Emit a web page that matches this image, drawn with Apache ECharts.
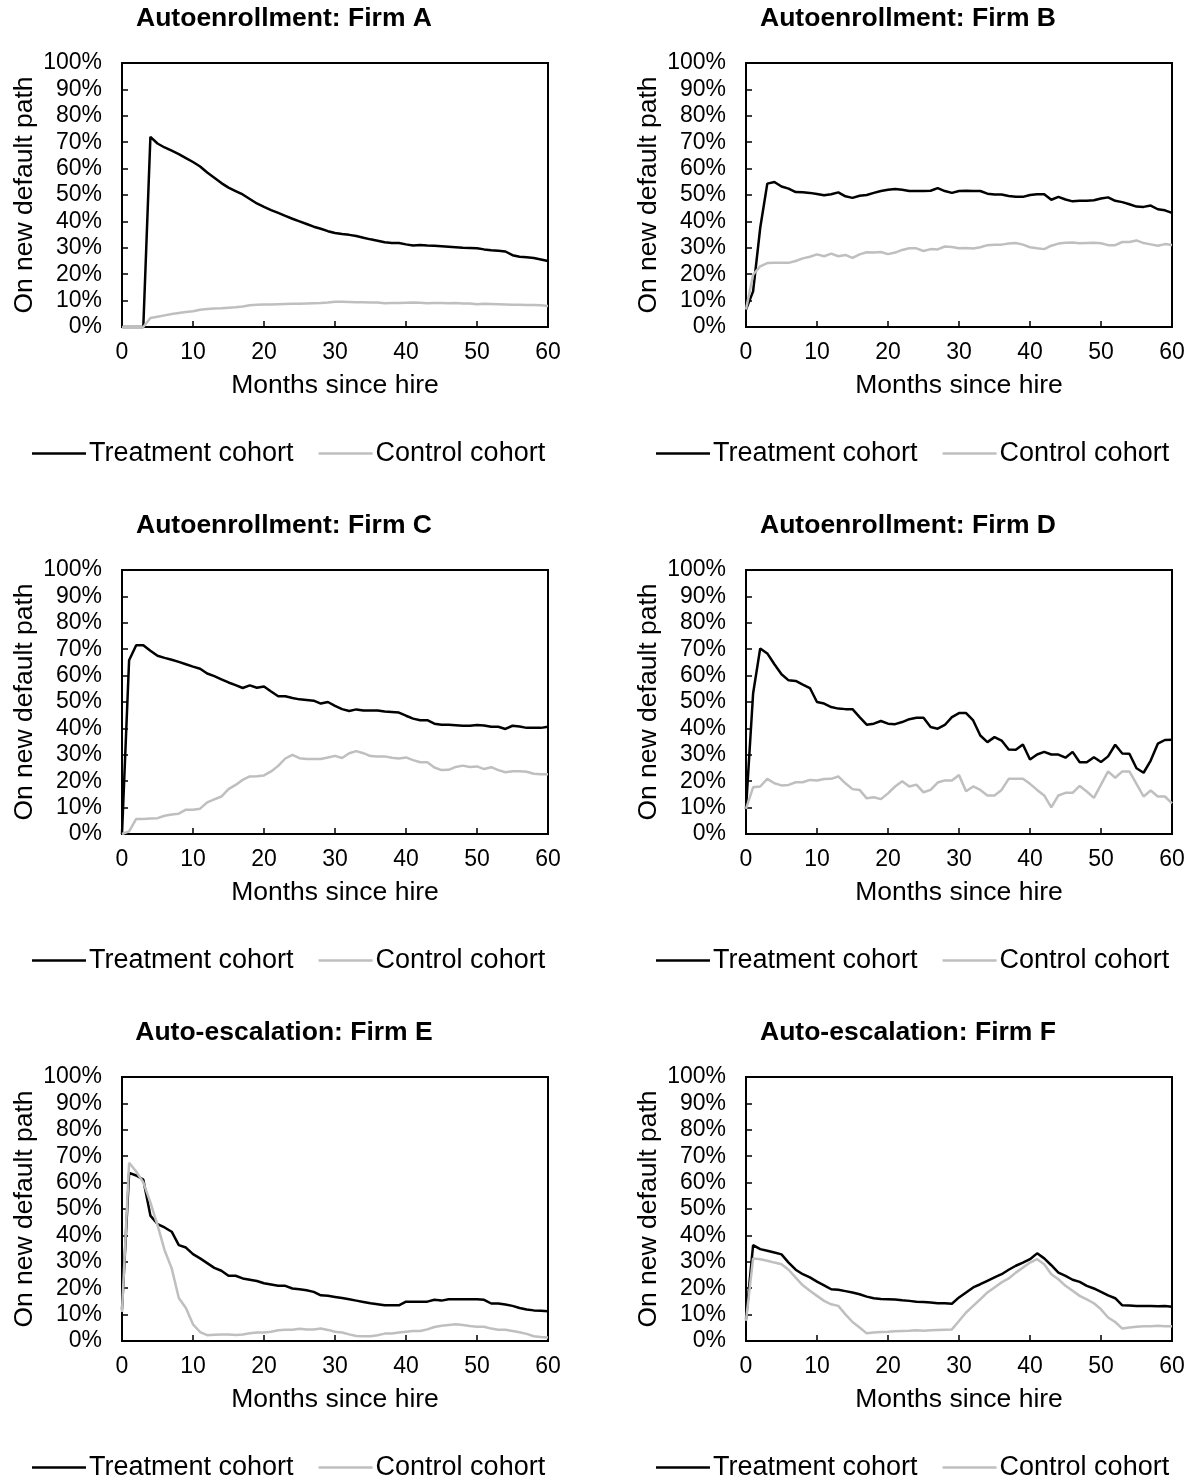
<!DOCTYPE html>
<html>
<head>
<meta charset="utf-8">
<script src="https://cdn.jsdelivr.net/npm/echarts@6/dist/echarts.min.js"></script>
<style>
html,body{margin:0;padding:0;background:#fff;}
#chart{width:1196px;height:1479px;}
</style>
</head>
<body>
<div id="chart"></div>
<script>
const MONTHS = [0,1,2,3,4,5,6,7,8,9,10,11,12,13,14,15,16,17,18,19,20,21,22,23,24,25,26,27,28,29,30,31,32,33,34,35,36,37,38,39,40,41,42,43,44,45,46,47,48,49,50,51,52,53,54,55,56,57,58,59,60];
const X_TICKS = [0,10,20,30,40,50,60];
const Y_TICKS = [0,10,20,30,40,50,60,70,80,90,100];
const TITLES = ['Autoenrollment: Firm A','Autoenrollment: Firm B','Autoenrollment: Firm C','Autoenrollment: Firm D','Auto-escalation: Firm E','Auto-escalation: Firm F'];
const SERIES_NAMES = ['Treatment cohort','Control cohort'];
const X_NAME = 'Months since hire';
const Y_NAME = 'On new default path';

const A_TREAT = [0,0,0,0,72.0,69.5,68.0,66.8,65.5,64.0,
  62.5,60.8,58.5,56.5,54.5,52.8,51.5,50.2,48.5,46.8,
  45.5,44.3,43.2,42.1,41.0,40.0,39.0,38.0,37.2,36.3,
  35.6,35.2,34.9,34.5,33.8,33.2,32.7,32.1,31.8,31.8,
  31.3,30.9,31.1,30.9,30.8,30.6,30.4,30.2,30.0,29.9,
  29.8,29.4,29.1,28.9,28.6,27.2,26.6,26.4,26.1,25.6,25.0];
const A_CTRL = [0,0,0,0,3.4,3.9,4.4,4.9,5.3,5.7,
  6.0,6.5,6.8,7.0,7.1,7.3,7.5,7.8,8.2,8.4,
  8.5,8.5,8.6,8.7,8.8,8.8,8.9,9.0,9.1,9.3,
  9.6,9.6,9.5,9.4,9.4,9.3,9.3,9.0,9.1,9.1,
  9.2,9.3,9.2,9.0,9.1,9.1,9.0,9.1,8.9,8.9,
  8.6,8.8,8.7,8.6,8.5,8.4,8.4,8.3,8.3,8.2,8.0];
const B_TREAT = [6.6,13.5,37.5,54.3,54.9,53.2,52.4,51.1,51.0,50.8,
  50.4,49.9,50.3,51.0,49.5,48.9,49.7,50.0,50.8,51.5,
  52.0,52.3,52.0,51.5,51.5,51.5,51.6,52.6,51.5,50.8,
  51.5,51.6,51.5,51.5,50.5,50.2,50.2,49.6,49.3,49.3,
  50.0,50.3,50.3,48.2,49.3,48.3,47.6,47.8,47.8,48.0,
  48.7,49.1,47.8,47.3,46.5,45.6,45.5,46.0,44.6,44.2,43.2];
const B_CTRL = [6.6,19.8,23.0,24.2,24.3,24.3,24.3,25.0,26.0,26.6,
  27.5,26.8,27.8,26.8,27.3,26.2,27.5,28.3,28.2,28.4,
  27.6,28.2,29.2,29.8,29.8,28.8,29.5,29.4,30.5,30.3,
  29.8,29.9,29.7,30.2,31.0,31.2,31.2,31.6,31.8,31.2,
  30.2,29.8,29.5,30.8,31.6,31.9,32.0,31.7,31.8,31.9,
  31.7,31.0,31.0,32.2,32.2,32.8,31.8,31.3,30.8,31.4,31.1];
const C_TREAT = [0,65.8,71.5,71.5,69.4,67.5,66.7,66.0,65.2,64.3,
  63.4,62.6,60.8,59.8,58.6,57.4,56.4,55.3,56.3,55.4,
  55.9,54.0,52.2,52.2,51.5,51.0,50.8,50.5,49.4,50.0,
  48.5,47.3,46.6,47.2,46.8,46.8,46.8,46.4,46.2,46.0,
  44.8,43.7,43.1,43.1,41.8,41.4,41.4,41.2,41.0,41.0,
  41.3,41.1,40.6,40.6,39.8,41.0,40.7,40.2,40.2,40.2,40.6];
const C_CTRL = [0,1.0,5.7,5.7,5.9,6.0,6.9,7.4,7.7,9.2,
  9.2,9.6,12.0,13.1,14.2,17.0,18.6,20.5,21.8,21.9,
  22.2,23.7,25.8,28.6,30.0,28.7,28.4,28.4,28.4,29.0,
  29.6,28.8,30.6,31.4,30.6,29.5,29.4,29.4,28.9,28.6,
  29.0,28.0,27.2,27.2,25.2,24.2,24.3,25.4,25.9,25.4,
  25.6,24.6,25.3,24.2,23.4,23.8,23.8,23.6,22.8,22.6,22.6];
const D_TREAT = [9.5,53.2,70.3,68.4,64.3,60.5,58.2,58.0,56.6,55.3,
  50.0,49.4,48.1,47.5,47.3,47.3,44.3,41.4,41.8,42.8,
  41.8,41.6,42.4,43.5,44.0,44.0,40.5,39.9,41.3,44.3,
  45.8,45.8,43.0,37.3,34.8,36.7,35.4,32.0,31.9,33.9,
  28.2,30.1,31.1,30.1,30.1,28.9,31.1,27.2,27.2,29.1,
  27.3,29.4,33.8,30.5,30.4,24.9,23.2,27.8,34.2,35.6,35.7];
const D_CTRL = [9.5,17.7,18.0,20.9,19.2,18.4,18.6,19.6,19.6,20.5,
  20.3,20.8,20.9,21.8,19.2,17.0,16.7,13.5,13.9,13.2,
  15.4,18.0,20.0,18.0,18.7,15.8,16.7,19.5,20.3,20.3,
  22.3,16.2,18.0,16.7,14.6,14.6,16.7,20.9,20.9,20.9,
  19.0,16.7,14.6,10.1,14.6,15.6,15.6,18.2,16.1,13.7,
  18.7,23.7,21.3,23.7,23.7,19.0,14.2,16.5,14.2,14.2,11.6];
const E_TREAT = [12.0,63.7,62.7,61.1,47.5,44.3,43.0,41.4,36.3,35.4,
  32.9,31.3,29.5,27.7,26.6,24.7,24.7,23.7,23.2,22.7,
  21.9,21.4,20.9,20.9,19.9,19.6,19.2,18.6,17.3,17.1,
  16.7,16.3,15.8,15.3,14.8,14.3,13.9,13.5,13.5,13.5,
  14.9,14.9,14.9,14.9,15.6,15.3,15.8,15.8,15.8,15.8,
  15.8,15.6,14.2,14.2,13.8,13.3,12.5,11.9,11.6,11.5,11.3];
const E_CTRL = [11.0,67.5,64.2,60.1,52.5,43.9,34.4,27.5,16.3,12.5,
  6.3,3.4,2.2,2.4,2.5,2.5,2.3,2.5,2.9,3.2,
  3.2,3.5,4.1,4.3,4.3,4.6,4.4,4.4,4.7,4.2,
  3.5,3.2,2.5,1.9,1.8,1.8,2.2,2.8,2.8,3.2,
  3.5,3.8,3.8,4.4,5.3,5.8,6.1,6.3,6.1,5.7,
  5.4,5.4,4.7,4.3,4.3,3.8,3.3,2.7,1.8,1.5,1.3];
const F_TREAT = [8.2,36.3,34.8,34.2,33.5,32.8,29.7,27.0,25.3,24.1,
  22.5,21.1,19.6,19.4,18.9,18.4,17.7,16.8,16.2,15.9,
  15.8,15.7,15.4,15.2,14.9,14.8,14.6,14.3,14.3,14.1,
  16.5,18.4,20.3,21.5,22.8,24.1,25.3,27.0,28.5,29.7,
  31.0,33.2,31.3,28.7,25.9,24.7,23.2,22.4,20.9,19.9,
  18.6,17.3,16.2,13.5,13.4,13.3,13.3,13.3,13.2,13.3,13.0];
const F_CTRL = [7.6,31.3,31.0,30.4,29.7,29.1,27.0,24.0,21.1,19.0,
  17.1,15.2,13.9,13.3,10.1,7.2,5.1,2.9,3.2,3.4,
  3.5,3.7,3.8,3.9,4.1,3.9,4.1,4.2,4.3,4.4,
  7.6,10.8,13.3,15.8,18.4,20.3,22.2,23.7,25.9,27.8,
  29.7,31.0,29.1,25.3,23.4,20.9,19.0,17.1,15.8,14.3,
  12.0,8.9,7.2,4.7,5.1,5.4,5.6,5.6,5.8,5.6,5.6];

const TREATS = [A_TREAT,B_TREAT,C_TREAT,D_TREAT,E_TREAT,F_TREAT];
const CTRLS = [A_CTRL,B_CTRL,C_CTRL,D_CTRL,E_CTRL,F_CTRL];
const COLORS = ['#000000','#BFBFBF'];

const FONT = "'Liberation Sans', Arial, sans-serif";
const COL_OFF = [0, 624];
const ROW_TOP = [63, 570, 1077];
const PLOT_L = 122, PLOT_W = 426, PLOT_H = 264;

const chart = echarts.init(document.getElementById('chart'), null, {renderer:'canvas'});
const option = {
  animation:false,
  backgroundColor:'#fff',
  textStyle:{fontFamily:FONT,color:'#000'},
  title:[], legend:[], grid:[], xAxis:[], yAxis:[], series:[]
};
for (let i=0;i<6;i++){
  const c = i%2, r = Math.floor(i/2);
  const left = PLOT_L + COL_OFF[c];
  const top = ROW_TOP[r];
  option.title.push({
    text:TITLES[i], left:279+COL_OFF[c], top:top-63, textAlign:'center',
    textStyle:{fontFamily:FONT,fontSize:26.5,fontWeight:'bold',color:'#000'}
  });
  option.grid.push({left:left, top:top, width:PLOT_W, height:PLOT_H, show:true, borderColor:'#000', borderWidth:2, backgroundColor:'transparent'});
  option.xAxis.push({
    type:'value', gridIndex:i, min:X_TICKS[0], max:X_TICKS[X_TICKS.length-1], interval:10,
    name:X_NAME, nameLocation:'middle', nameGap:45,
    nameTextStyle:{fontFamily:FONT,fontSize:26.5,color:'#000'},
    axisLine:{show:true,lineStyle:{color:'#000',width:2}},
    axisTick:{show:true,inside:true,length:6,lineStyle:{color:'#000',width:1.5}},
    axisLabel:{fontFamily:FONT,fontSize:23,color:'#000',margin:14},
    splitLine:{show:false}
  });
  option.yAxis.push({
    type:'value', gridIndex:i, min:Y_TICKS[0], max:Y_TICKS[Y_TICKS.length-1], interval:10,
    name:Y_NAME, nameLocation:'middle', nameGap:84, nameRotate:90,
    nameTextStyle:{fontFamily:FONT,fontSize:26.5,color:'#000'},
    axisLine:{show:true,lineStyle:{color:'#000',width:2}},
    axisTick:{show:true,inside:true,length:6,lineStyle:{color:'#000',width:1.5}},
    axisLabel:{fontFamily:FONT,fontSize:23,color:'#000',margin:20,formatter:'{value}%'},
    splitLine:{show:false}
  });
  option.series.push({
    name:SERIES_NAMES[0], type:'line', xAxisIndex:i, yAxisIndex:i, symbol:'none', clip:false,
    data:MONTHS.map((m,k)=>[m,TREATS[i][k]]),
    lineStyle:{color:COLORS[0],width:2.5}, itemStyle:{color:COLORS[0]}
  });
  option.series.push({
    name:SERIES_NAMES[1], type:'line', xAxisIndex:i, yAxisIndex:i, symbol:'none', clip:false,
    data:MONTHS.map((m,k)=>[m,CTRLS[i][k]]),
    lineStyle:{color:COLORS[1],width:2.5}, itemStyle:{color:COLORS[1]}
  });
  option.legend.push({
    data:SERIES_NAMES.map((n,k)=>({name:n,icon:'rect',itemStyle:{color:COLORS[k]}})),
    left:32+COL_OFF[c], top:top+377, padding:0,
    itemWidth:54, itemHeight:2.5, itemGap:25,
    textStyle:{fontFamily:FONT,fontSize:27,color:'#000',padding:[0,0,0,-2]},
    selectedMode:false
  });
}
chart.setOption(option);
</script>
</body>
</html>
